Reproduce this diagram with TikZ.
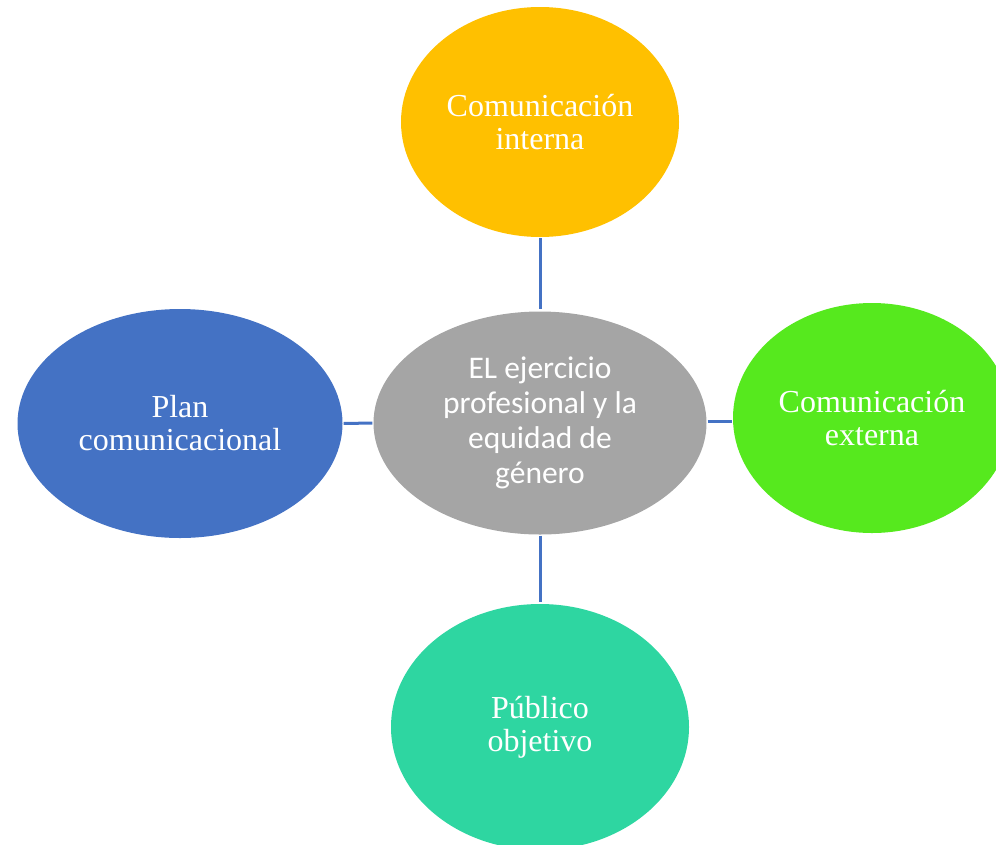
\documentclass[tikz,border=0pt]{standalone}
\usepackage{fontspec}
\setmainfont{Liberation Serif}
\newfontfamily\hubfont{Carlito}
\usetikzlibrary{shapes.geometric}

\definecolor{cAmber}{RGB}{255,192,0}
\definecolor{cBlue}{RGB}{68,114,196}
\definecolor{cGrey}{RGB}{165,165,165}
\definecolor{cLime}{RGB}{86,233,30}
\definecolor{cTeal}{RGB}{46,214,161}
\definecolor{cLink}{RGB}{68,114,196}

\tikzset{
  bubble/.style={ellipse, draw=none, inner sep=0pt, align=center,
    text=white, font=\fontsize{32}{33}\selectfont},
  hub/.style={bubble, font=\hubfont\fontsize{31.5}{35}\selectfont},
  link/.style={draw=cLink, line width=3pt}
}

\begin{document}
\begin{tikzpicture}[x=1pt, y=-1pt]
  \useasboundingbox (0,0) rectangle (996,844);
  \clip (0,0) rectangle (996,844);

  % central theme
  \node[hub, fill=cGrey, minimum width=333pt, minimum height=223pt]
    (hub) at (540,423) {EL ejercicio\\profesional y la\\equidad de\\género};

  % surrounding topics
  \node[bubble, fill=cAmber, minimum width=278pt, minimum height=230pt]
    (top) at (540,122) {Comunicación\\interna};
  \node[bubble, fill=cBlue, minimum width=325pt, minimum height=229pt]
    (left) at (180,423.5) {Plan\\comunicacional};
  \node[bubble, fill=cLime, minimum width=278pt, minimum height=230pt]
    (right) at (872,418) {Comunicación\\externa};
  \node[bubble, fill=cTeal, minimum width=298pt, minimum height=246pt]
    (bottom) at (540,727) {Público\\objetivo};

  % spokes
  \draw[link, shorten <=1pt, shorten >=2pt] (top.south) -- (hub.north);
  \draw[link, shorten <=1pt, shorten >=2pt] (hub.south) -- (bottom.north);
  \draw[link, shorten <=1pt, shorten >=1pt] (left.east) -- (hub.west);
  \draw[link, shorten <=1pt, shorten >=1pt] ([yshift=1.5pt]hub.east) -- ([yshift=1.5pt]hub.east -| right.west);
\end{tikzpicture}
\end{document}
